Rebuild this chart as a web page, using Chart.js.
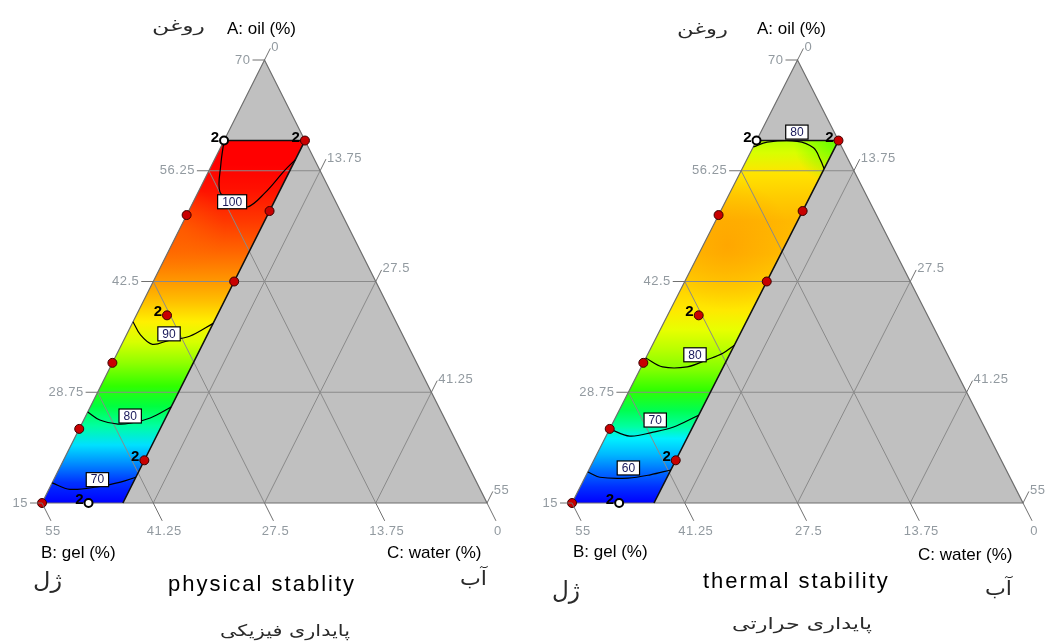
<!DOCTYPE html>
<html>
<head>
<meta charset="utf-8">
<title>ternary contour plots</title>
<script src="https://cdn.jsdelivr.net/npm/chart.js@4.4.1/dist/chart.umd.min.js"></script>
<style>
  body { margin: 0; background: #fff; }
  .wrap { position: relative; width: 1045px; height: 641px; overflow: hidden; }
  canvas { position: absolute; top: 0; }
  #physicalChart { left: 0; }
  #thermalChart { left: 522px; }
</style>
</head>
<body>
<div class="wrap">
  <canvas id="physicalChart" width="522" height="641"></canvas>
  <canvas id="thermalChart" width="523" height="641"></canvas>
</div>
<script>
// mixture: A oil 15-70, B gel 0-55, C water 0-55, A + B + C = 70
const aTicks = [15, 28.75, 42.5, 56.25, 70];
const bTicks = [55, 41.25, 27.5, 13.75, 0];
const cTicks = [0, 13.75, 27.5, 41.25, 55];

// feasible region as [A, C] pairs (B = 70 - A - C)
const regionUpper = [[15, 0], [60, 0], [60, 10]];
const regionLower = [[15, 0], [15, 10], [60, 10]];

// design runs
const runA = [60, 60, 50.75, 51.25, 42.5, 38.3, 32.4, 24.2, 20.3, 15, 15];
const runC = [0, 10, 0, 10, 10, 3.8, 0, 0, 10, 0, 5.75];
const runReps = [2, 2, 1, 1, 1, 2, 1, 1, 2, 1, 2];
const runOpen = [true, false, false, false, false, false, false, false, false, false, true];

// physical stability contours, [A, C]
const physLevels = [100, 90, 80, 70];
const physLines = [
  [[60, 0], [57, 1.1], [53.6, 2.7], [52.6, 4.8], [51.75, 7], [53.5, 8.3], [56.3, 9.35], [57.6, 10]],
  [[37.5, 0], [35.9, 1.7], [34.7, 3.8], [35.2, 5.6], [35.7, 7.9], [37.3, 10]],
  [[26.3, 0], [25.3, 2], [24.8, 4.5], [24.9, 5.9], [25.55, 8.1], [26.9, 10]],
  [[17.5, 0], [16.7, 2.6], [17, 5.8], [17.6, 8.4], [18.2, 10]]
];
const physLabelAt = [[52.4, 4.8], [36, 5.2], [25.8, 5.5], [17.9, 5.4]];

// thermal stability contours, [A, C]
const thermLevels = [80, 80, 70, 60];
const thermLines = [
  [[59.2, 0], [59.8, 1.4], [59.9, 5], [59.1, 7.4], [57.6, 9], [56.5, 10]],
  [[33, 0], [31.9, 2.6], [31.9, 5.6], [32.8, 7.6], [33.6, 9.1], [34.6, 10]],
  [[24.2, 0], [23.3, 2.9], [23.8, 5.5], [24.4, 7.6], [25.9, 10]],
  [[18.85, 0], [18.2, 1.8], [18.1, 5.3], [18.5, 7.8], [19.1, 10]]
];
const thermLabelAt = [[61.05, 4.4], [33.4, 5.8], [25.3, 5], [19.35, 4.7]];

// colour ramps by oil level
const physRampA = [15, 17.5, 20, 22.2, 24.6, 27, 29.5, 32.4, 35, 37.5, 40, 42.5, 46, 50, 54, 57];
const physRampColor = ['#0000ff', '#0030ff', '#0090ff', '#00e0ff', '#00ffa0', '#00ff40', '#30ff00', '#90ff00',
  '#d8ff00', '#fff000', '#ffc000', '#ff9800', '#ff6800', '#ff3800', '#ff1000', '#ff0000'];
const thermRampA = [15, 17, 19, 21, 23, 24.5, 26.5, 29, 31.5, 34, 36.5, 39, 42, 46, 50, 53, 56, 58.5, 60];
const thermRampColor = ['#0000ff', '#0030ff', '#0070ff', '#00b8ff', '#00f0ff', '#00ffa0', '#00ff50', '#30ff00',
  '#80ff00', '#b8ff00', '#e8ff00', '#ffe800', '#ffd000', '#ffbc00', '#ffb800', '#ffcc00', '#ffe400', '#d8ff00', '#b8ff00'];

function tern(A, C) {
  const a = (A - 15) / 55;
  return { x: C / 55 + a / 2, y: a };
}

function pix(chart, A, C) {
  const t = tern(A, C);
  return { x: chart.scales.x.getPixelForValue(t.x), y: chart.scales.y.getPixelForValue(t.y) };
}

function toData(pairs) {
  return pairs.map(p => tern(p[0], p[1]));
}

function gridPairs() {
  const lines = [];
  aTicks.slice(1, -1).forEach(A => lines.push([[A, 0], [A, 70 - A]]));
  bTicks.slice(1, -1).forEach(B => lines.push([[15, 55 - B], [70 - B, 0]]));
  cTicks.slice(1, -1).forEach(C => lines.push([[15, C], [70 - C, C]]));
  return lines;
}

function rampFill(rampA, rampColor) {
  return (c) => {
    const ch = c.chart;
    if (!ch.chartArea) return rampColor[0];
    const lo = rampA[0], hi = rampA[rampA.length - 1];
    const y0 = pix(ch, lo, 0).y, y1 = pix(ch, hi, 0).y;
    const g = ch.ctx.createLinearGradient(0, y0, 0, y1);
    rampA.forEach((A, i) => g.addColorStop((A - lo) / (hi - lo), rampColor[i]));
    return g;
  };
}

function blobFill(blob) {
  return (c) => {
    const ch = c.chart;
    if (!ch.chartArea) return 'rgba(0,0,0,0)';
    const p = pix(ch, blob.A, blob.C);
    const g = ch.ctx.createRadialGradient(p.x, p.y, 0, p.x, p.y, blob.r);
    g.addColorStop(0, 'rgba(' + blob.rgb + ',' + blob.alpha + ')');
    g.addColorStop(1, 'rgba(' + blob.rgb + ',0)');
    return g;
  };
}

const NONE = 'rgba(0,0,0,0)';

function buildDatasets(spec) {
  const ds = [];
  // 0: grey triangle
  ds.push({ data: toData([[15, 0], [70, 0], [15, 55]]), showLine: true, fill: 'origin',
    backgroundColor: '#c0c0c0', borderColor: NONE, borderWidth: 0, pointRadius: 0, order: 40 });
  // 1: coloured region (upper edge), filled down to 2
  ds.push({ data: toData(regionUpper), showLine: true, fill: 2,
    backgroundColor: rampFill(spec.rampA, spec.rampColor), borderColor: NONE, borderWidth: 0, pointRadius: 0, order: 39 });
  // 2: region lower edge
  ds.push({ data: toData(regionLower), showLine: true, fill: false,
    borderColor: NONE, borderWidth: 0, pointRadius: 0, order: 38 });
  spec.blobs.forEach((b, i) => {
    ds.push({ data: toData(regionUpper), showLine: true, fill: 2,
      backgroundColor: blobFill(b), borderColor: NONE, borderWidth: 0, pointRadius: 0, order: 37 - i });
  });
  gridPairs().forEach(g => {
    ds.push({ data: toData(g), showLine: true, fill: false, borderColor: '#8a8a8a', borderWidth: 1,
      pointRadius: 0, clip: false, order: 30 });
  });
  // triangle outline
  ds.push({ data: toData([[15, 0], [70, 0], [15, 55], [15, 0]]), showLine: true, fill: false,
    borderColor: '#6e6e6e', borderWidth: 1.2, pointRadius: 0, clip: false, order: 29 });
  // region border
  ds.push({ data: toData([[60, 0], [60, 10], [15, 10]]), showLine: true, fill: false,
    borderColor: '#111', borderWidth: 1.6, pointRadius: 0, clip: false, order: 20 });
  spec.lines.forEach(l => {
    ds.push({ data: toData(l), showLine: true, fill: false, borderColor: '#000', borderWidth: 1.2,
      tension: 0.35, pointRadius: 0, clip: false, order: 10 });
  });
  const red = [], open = [];
  runA.forEach((A, i) => (runOpen[i] ? open : red).push(tern(A, runC[i])));
  ds.push({ data: red, showLine: false, pointRadius: 4.5, backgroundColor: '#c80000',
    borderColor: '#3a0000', borderWidth: 1, clip: false, order: 2 });
  ds.push({ data: open, showLine: false, pointRadius: 4, backgroundColor: '#fff',
    borderColor: '#000', borderWidth: 2, clip: false, order: 1 });
  return ds;
}

function decorPlugin(spec) {
  return {
    id: 'decor',
    afterDatasetsDraw(chart) {
      const ctx = chart.ctx;
      const P = (A, C) => pix(chart, A, C);
      const apex = P(70, 0), bl = P(15, 0), br = P(15, 55);
      const unit = (a, b) => { const dx = b.x - a.x, dy = b.y - a.y, l = Math.hypot(dx, dy); return { x: dx / l, y: dy / l }; };
      const up = unit(bl, apex), down = unit(apex, br);
      ctx.save();
      ctx.strokeStyle = '#707070';
      ctx.lineWidth = 1;
      ctx.fillStyle = '#929aa0';
      ctx.font = '13px "Liberation Sans", Arial, sans-serif';
      ctx.letterSpacing = '0.5px';
      // A ticks, left edge
      aTicks.forEach(A => {
        const p = P(A, 0);
        ctx.beginPath(); ctx.moveTo(p.x, p.y); ctx.lineTo(p.x - 12, p.y); ctx.stroke();
        ctx.textAlign = 'right'; ctx.textBaseline = 'middle';
        ctx.fillText(String(A), p.x - 14, p.y);
      });
      // C ticks, right edge
      cTicks.forEach(C => {
        const p = P(70 - C, C);
        const e = { x: p.x + up.x * 13, y: p.y + up.y * 13 };
        ctx.beginPath(); ctx.moveTo(p.x, p.y); ctx.lineTo(e.x, e.y); ctx.stroke();
        ctx.textAlign = 'left'; ctx.textBaseline = 'middle';
        ctx.fillText(String(C), e.x + 1, e.y - 1);
      });
      // B ticks, bottom edge
      bTicks.forEach(B => {
        const p = P(15, 55 - B);
        const e = { x: p.x + down.x * 20, y: p.y + down.y * 20 };
        ctx.beginPath(); ctx.moveTo(p.x, p.y); ctx.lineTo(e.x, e.y); ctx.stroke();
        ctx.textAlign = 'center'; ctx.textBaseline = 'middle';
        ctx.fillText(String(B), e.x + 2, e.y + 11);
      });
      ctx.letterSpacing = '0px';

      // contour labels
      ctx.font = '12px "Liberation Sans", Arial, sans-serif';
      spec.labelAt.forEach((q, i) => {
        const p = P(q[0], q[1]);
        const t = String(spec.levels[i]);
        const w = ctx.measureText(t).width + 9, h = 14;
        ctx.fillStyle = '#fff';
        ctx.fillRect(p.x - w / 2, p.y - h / 2, w, h);
        ctx.strokeStyle = '#000';
        ctx.lineWidth = 1.2;
        ctx.strokeRect(p.x - w / 2, p.y - h / 2, w, h);
        ctx.fillStyle = '#18185a';
        ctx.textAlign = 'center'; ctx.textBaseline = 'middle';
        ctx.fillText(t, p.x, p.y + 0.5);
      });

      // replicate counts
      ctx.font = 'bold 15px "Liberation Sans", Arial, sans-serif';
      ctx.fillStyle = '#000';
      ctx.textAlign = 'right'; ctx.textBaseline = 'alphabetic';
      runA.forEach((A, i) => {
        if (runReps[i] < 2) return;
        const p = P(A, runC[i]);
        ctx.fillText(String(runReps[i]), p.x - 5, p.y + 1);
      });

      // titles
      spec.texts.forEach(tx => {
        ctx.textAlign = 'left'; ctx.textBaseline = 'middle';
        if (tx.fa) {
          // Persian labels: fixed height, stretched to the width seen in the source
          ctx.font = tx.max + 'px "DejaVu Sans", sans-serif';
          ctx.fillStyle = '#2a2a2a';
          const m = ctx.measureText(tx.text).width;
          ctx.save();
          ctx.translate(tx.x, tx.y);
          ctx.scale(tx.w / m, 1);
          ctx.fillText(tx.text, 0, 0);
          ctx.restore();
        } else {
          ctx.font = tx.size + 'px "Liberation Sans", Arial, sans-serif';
          ctx.fillStyle = '#000';
          ctx.letterSpacing = (tx.spacing || 0) + 'px';
          ctx.fillText(tx.text, tx.x, tx.y);
          ctx.letterSpacing = '0px';
        }
      });
      ctx.restore();
    }
  };
}

function makeChart(id, spec) {
  return new Chart(document.getElementById(id), {
    type: 'scatter',
    data: { datasets: buildDatasets(spec) },
    options: {
      responsive: false,
      animation: false,
      events: [],
      layout: { padding: spec.padding },
      plugins: { legend: { display: false }, tooltip: { enabled: false } },
      scales: {
        x: { type: 'linear', min: 0, max: 1, display: false },
        y: { type: 'linear', min: 0, max: 1, display: false }
      }
    },
    plugins: [decorPlugin(spec)]
  });
}

makeChart('physicalChart', {
  padding: { left: 42, right: 35, top: 60, bottom: 138 },
  rampA: physRampA, rampColor: physRampColor,
  blobs: [{ A: 49, C: 0, r: 45, rgb: '255,120,0', alpha: 0.45 }],
  lines: physLines, levels: physLevels, labelAt: physLabelAt,
  texts: [
    { text: 'A: oil (%)', x: 227, y: 29, size: 17 },
    { text: 'روغن', x: 152, y: 27, w: 53, fa: true, max: 16 },
    { text: 'B: gel (%)', x: 41, y: 553, size: 17 },
    { text: 'C: water (%)', x: 387, y: 553, size: 17 },
    { text: 'ژل', x: 33, y: 582, w: 29, fa: true, max: 22 },
    { text: 'آب', x: 460, y: 580, w: 27, fa: true, max: 20 },
    { text: 'physical stablity', x: 168, y: 585, size: 22, spacing: 2 },
    { text: 'پایداری فیزیکی', x: 220, y: 632, w: 130, fa: true, max: 16 }
  ]
});

makeChart('thermalChart', {
  padding: { left: 50, right: 22, top: 60, bottom: 138 },
  rampA: thermRampA, rampColor: thermRampColor,
  blobs: [
    { A: 47, C: 3, r: 65, rgb: '255,150,0', alpha: 0.55 },
    { A: 60, C: 10, r: 45, rgb: '80,255,0', alpha: 0.85 }
  ],
  lines: thermLines, levels: thermLevels, labelAt: thermLabelAt,
  texts: [
    { text: 'A: oil (%)', x: 235, y: 29, size: 17 },
    { text: 'روغن', x: 155, y: 30, w: 51, fa: true, max: 16 },
    { text: 'B: gel (%)', x: 51, y: 552, size: 17 },
    { text: 'C: water (%)', x: 396, y: 555, size: 17 },
    { text: 'ژل', x: 30, y: 592, w: 28, fa: true, max: 24 },
    { text: 'آب', x: 463, y: 590, w: 27, fa: true, max: 20 },
    { text: 'thermal stability', x: 181, y: 582, size: 22, spacing: 2 },
    { text: 'پایداری حرارتی', x: 210, y: 625, w: 140, fa: true, max: 16 }
  ]
});
</script>
</body>
</html>
